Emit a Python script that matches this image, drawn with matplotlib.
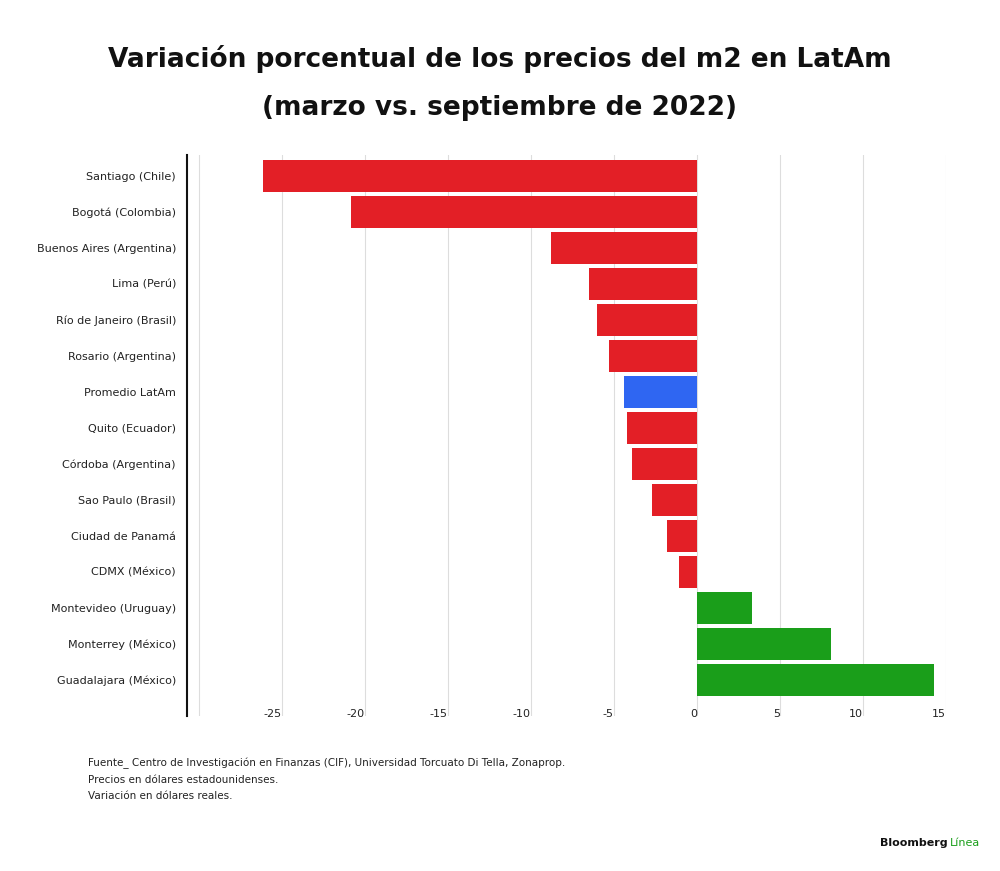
import matplotlib
matplotlib.use("Agg")
import matplotlib.pyplot as plt

cities = ["Santiago (Chile)", "Bogotá (Colombia)", "Buenos Aires (Argentina)", "Lima (Perú)",
          "Río de Janeiro (Brasil)", "Rosario (Argentina)", "Promedio LatAm", "Quito (Ecuador)",
          "Córdoba (Argentina)", "Sao Paulo (Brasil)", "Ciudad de Panamá", "CDMX (México)",
          "Montevideo (Uruguay)", "Monterrey (México)", "Guadalajara (México)"]
values = [-26.1, -20.8, -8.8, -6.5, -6.0, -5.3, -4.4, -4.2, -3.9, -2.7, -1.8, -1.1, 3.3, 8.1, 14.3]
ticks = [-25, -20, -15, -10, -5, 0, 5, 10, 15]

RED, BLUE, GREEN = "#e31f26", "#2f66f2", "#1a9e1a"
colors = [BLUE if c == "Promedio LatAm" else (GREEN if v > 0 else RED) for c, v in zip(cities, values)]

fig = plt.figure(figsize=(10, 8.71), dpi=100)
ax = fig.add_axes([0.187, 0.178, 0.759, 0.644])
y = list(range(len(cities)))
ax.barh(y, values, height=0.89, color=colors, zorder=3)
ax.set_ylim(len(cities) - 1 + 1.0, -0.58)
ax.set_xlim(-30.7, 15)
ax.set_yticks(y)
ax.set_yticklabels(cities, fontsize=8, color="#222222")
ax.set_xticks(ticks)
ax.set_xticklabels([str(t) for t in ticks], fontsize=8, color="#222222")
for lab in ax.get_xticklabels():
    lab.set_horizontalalignment("right")
for gx in [-30, -25, -20, -15, -10, -5, 0, 5, 10, 15]:
    ax.axvline(gx, color="#dddddd", lw=0.8, zorder=0)
ax.tick_params(axis="y", length=0, pad=8)
ax.tick_params(axis="x", length=0, pad=-5)
for s in ["top", "right", "bottom"]:
    ax.spines[s].set_visible(False)
ax.spines["left"].set_linewidth(1.5)
ax.spines["left"].set_color("#111111")

fig.text(0.5, 0.932, "Variación porcentual de los precios del m2 en LatAm",
         ha="center", va="center", fontsize=19, fontweight="bold", color="#111111")
fig.text(0.5, 0.876, "(marzo vs. septiembre de 2022)",
         ha="center", va="center", fontsize=19, fontweight="bold", color="#111111")
fig.text(0.088, 0.13, "Fuente_ Centro de Investigación en Finanzas (CIF), Universidad Torcuato Di Tella, Zonaprop.\n"
         "Precios en dólares estadounidenses.\nVariación en dólares reales.",
         ha="left", va="top", fontsize=7.5, color="#222222", linespacing=1.75)
fig.text(0.880, 0.032, "Bloomberg", ha="left", va="center", fontsize=8, fontweight="bold", color="#111111")
fig.text(0.950, 0.032, "Línea", ha="left", va="center", fontsize=8, color=GREEN)
fig.savefig("out.png")
